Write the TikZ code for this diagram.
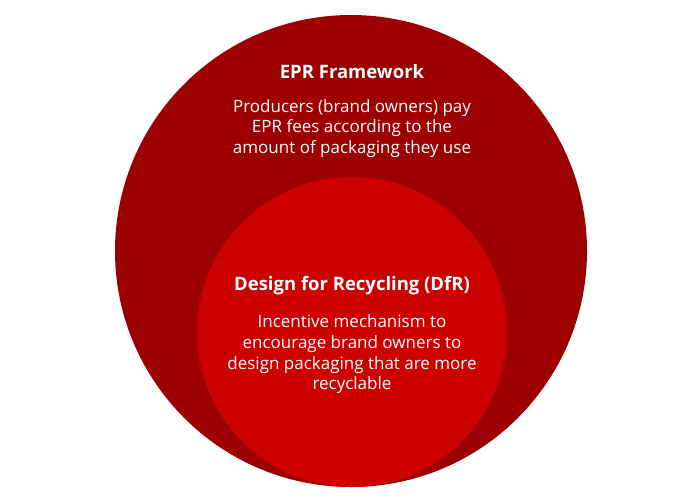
\documentclass[tikz,border=0pt]{standalone}
\usepackage{fontspec}
\setmainfont{Open Sans}
\definecolor{outerred}{HTML}{9D0000}
\definecolor{innerred}{HTML}{CC0000}
\tikzset{
  title/.style={text=white, font=\bfseries\fontsize{18.5}{22}\selectfont, align=center},
  body/.style={text=white, font=\fontsize{17}{20.7}\selectfont, align=center}
}
\begin{document}
\begin{tikzpicture}[x=1pt,y=-1pt]
\useasboundingbox (0,0) rectangle (700,500);
\fill[outerred] (351,251) circle[radius=236];
\fill[innerred] (352,332) circle[radius=155];
\node[title] (eprt) at (352,72) {EPR Framework};
\node[body] (eprb) at (352,128.5) {Producers (brand owners) pay\\EPR fees according to the\\amount of packaging they use};
\node[title] (dfrt) at (352,286) {Design for Recycling (DfR)};
\node[body] (dfrb) at (352,354.5) {Incentive mechanism to\\encourage brand owners to\\design packaging that are more\\recyclable};
\end{tikzpicture}
\end{document}
